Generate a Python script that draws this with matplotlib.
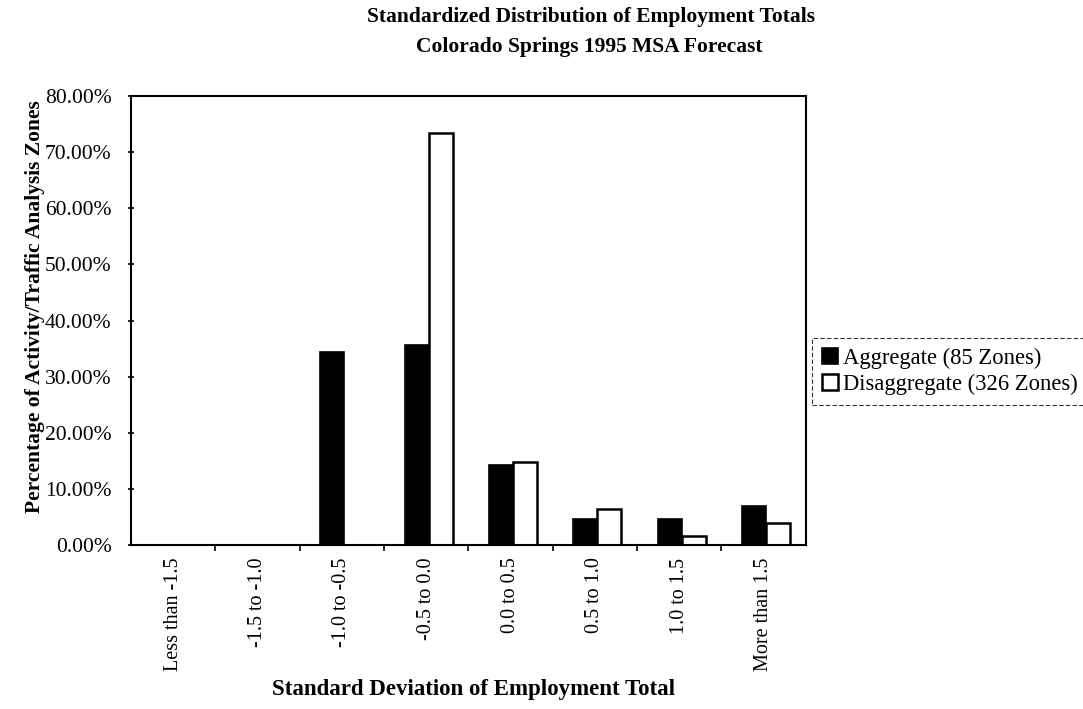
import matplotlib
matplotlib.use("Agg")
import matplotlib.pyplot as plt
import numpy as np
from matplotlib.ticker import FuncFormatter, FixedLocator

categories = ["Less than -1.5", "-1.5 to -1.0", "-1.0 to -0.5", "-0.5 to 0.0",
              "0.0 to 0.5", "0.5 to 1.0", "1.0 to 1.5", "More than 1.5"]
aggregate = [0.0, 0.0, 34.3, 35.6, 14.3, 4.7, 4.7, 7.0]
disaggregate = [0.0, 0.0, 0.0, 73.4, 14.8, 6.5, 1.6, 3.9]
series_names = ["Aggregate (85 Zones)", "Disaggregate (326 Zones)"]

plt.rcParams['font.family'] = ['Liberation Serif', 'DejaVu Serif']

fig = plt.figure(figsize=(10.83, 7.09), dpi=100)
ax = fig.add_axes([0.121, 0.2313, 0.623, 0.6333])

x = np.arange(len(categories))
w = 0.285
ax.bar(x - w/2 + 0.03, aggregate, w, color='black', edgecolor='black', linewidth=1.2,
       label=series_names[0])
ax.bar(x + w/2 + 0.03, disaggregate, w, color='white', edgecolor='black', linewidth=1.8,
       label=series_names[1])

ax.set_xlim(-0.5, len(categories) - 0.5)
ax.set_ylim(0, 80)
ax.set_yticks(np.arange(0, 81, 10))
ax.yaxis.set_major_formatter(FuncFormatter(lambda v, p: f"{v:.2f}%"))
ax.tick_params(axis='y', labelsize=15.5, length=4, width=1.2, direction='inout', pad=12)

ax.set_xticks(x)
ax.set_xticklabels(categories, rotation=90, fontsize=14.5)
ax.tick_params(axis='x', length=0, pad=9)
ax.xaxis.set_minor_locator(FixedLocator(np.arange(0.5, len(categories) - 0.5, 1)))
ax.tick_params(axis='x', which='minor', length=4, width=1.2, direction='out')

for s in ax.spines.values():
    s.set_linewidth(1.5)

ax.set_ylabel("Percentage of Activity/Traffic Analysis Zones", fontsize=15.5,
              fontweight='bold')
ax.yaxis.set_label_coords(-0.127, 0.53)

fig.text(0.437, 1 - 690 / 709, "Standard Deviation of Employment Total",
         ha='center', va='center', fontsize=16.5, fontweight='bold')

fig.text(0.546, 0.99, "Standardized Distribution of Employment Totals",
         ha='center', va='top', fontsize=15.5, fontweight='bold')
fig.text(0.544, 0.948, "Colorado Springs 1995 MSA Forecast",
         ha='center', va='top', fontsize=15.5, fontweight='bold')

leg = fig.legend(loc='center left', bbox_to_anchor=(0.750, 0.476), fontsize=16.3,
                 frameon=True, fancybox=False, handlelength=0.7, handleheight=0.7,
                 handletextpad=0.2, borderpad=0.45, labelspacing=0.2,
                 borderaxespad=0)
leg.get_frame().set_edgecolor('black')
leg.get_frame().set_linewidth(0.8)
leg.get_frame().set_linestyle((0, (4, 2)))

fig.savefig("out.png", dpi=100)
